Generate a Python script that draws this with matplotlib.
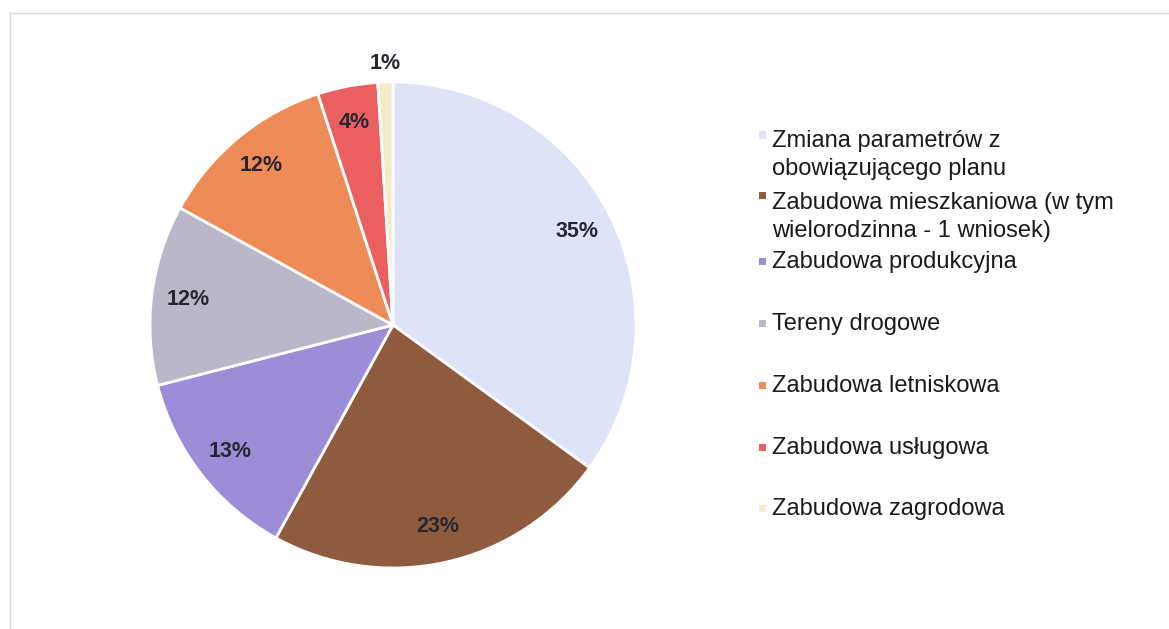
import matplotlib
matplotlib.use("Agg")
import matplotlib.pyplot as plt
from matplotlib.lines import Line2D
from matplotlib.patches import Rectangle
import math

categories = ["Zmiana parametrów z\nobowiązującego planu",
              "Zabudowa mieszkaniowa (w tym\nwielorodzinna - 1 wniosek)",
              "Zabudowa produkcyjna",
              "Tereny drogowe",
              "Zabudowa letniskowa",
              "Zabudowa usługowa",
              "Zabudowa zagrodowa"]
values = [35, 23, 13, 12, 12, 4, 1]
colors = ["#dfe3f8", "#8f5b3f", "#9d8dd8", "#bab7c8", "#ef8b57", "#ec5f61", "#f5ebc8"]

plt.rcParams['font.family'] = ['Liberation Sans', 'DejaVu Sans']

W, H = 1169, 629
fig = plt.figure(figsize=(W/100, H/100), dpi=100)
fig.patch.set_facecolor("white")

cx, cy, r = 393, 325, 243
ax = fig.add_axes([(cx - r)/W, (H - cy - r)/H, 2*r/W, 2*r/H])
wedges, texts, autotexts = ax.pie(values, colors=colors, startangle=90, counterclock=False,
                                  autopct='%1.0f%%', pctdistance=0.85,
                                  wedgeprops=dict(edgecolor="white", linewidth=2),
                                  textprops=dict(fontsize=15.5, fontweight='bold', color="#262630"))
ax.set_aspect('equal')
ax.set_xlim(-1, 1)
ax.set_ylim(-1, 1)
# small last slice label placed outside
t = autotexts[-1]
x, y = t.get_position()
d = math.hypot(x, y)
t.set_position((x/d*1.075, y/d*1.075))

# manual legend (layout positions in pixels)
lx_marker = 762
lx_text = 772
marker_y = [135, 196, 261, 323, 385, 447, 508]
first_baseline = [147, 209, 268, 330, 392, 454, 515]
line_step = 28
for lab, col, my, by in zip(categories, colors, marker_y, first_baseline):
    fig.patches.append(Rectangle(((lx_marker - 3.5)/W, (H - my - 3.5)/H), 7/W, 7/H,
                                 transform=fig.transFigure, facecolor=col, edgecolor='none'))
    for i, line in enumerate(lab.split("\n")):
        fig.text(lx_text/W, (H - by - i*line_step)/H, line, fontsize=17, color="#1a1a1a",
                 va='baseline', ha='left', transform=fig.transFigure)

# faint frame (top and left)
fig.add_artist(Line2D([10/W, 1], [(H - 13)/H, (H - 13)/H], color="#d8d8d8", lw=1))
fig.add_artist(Line2D([10/W, 10/W], [0, (H - 13)/H], color="#d8d8d8", lw=1))

fig.savefig("out.png", dpi=100, facecolor="white")
